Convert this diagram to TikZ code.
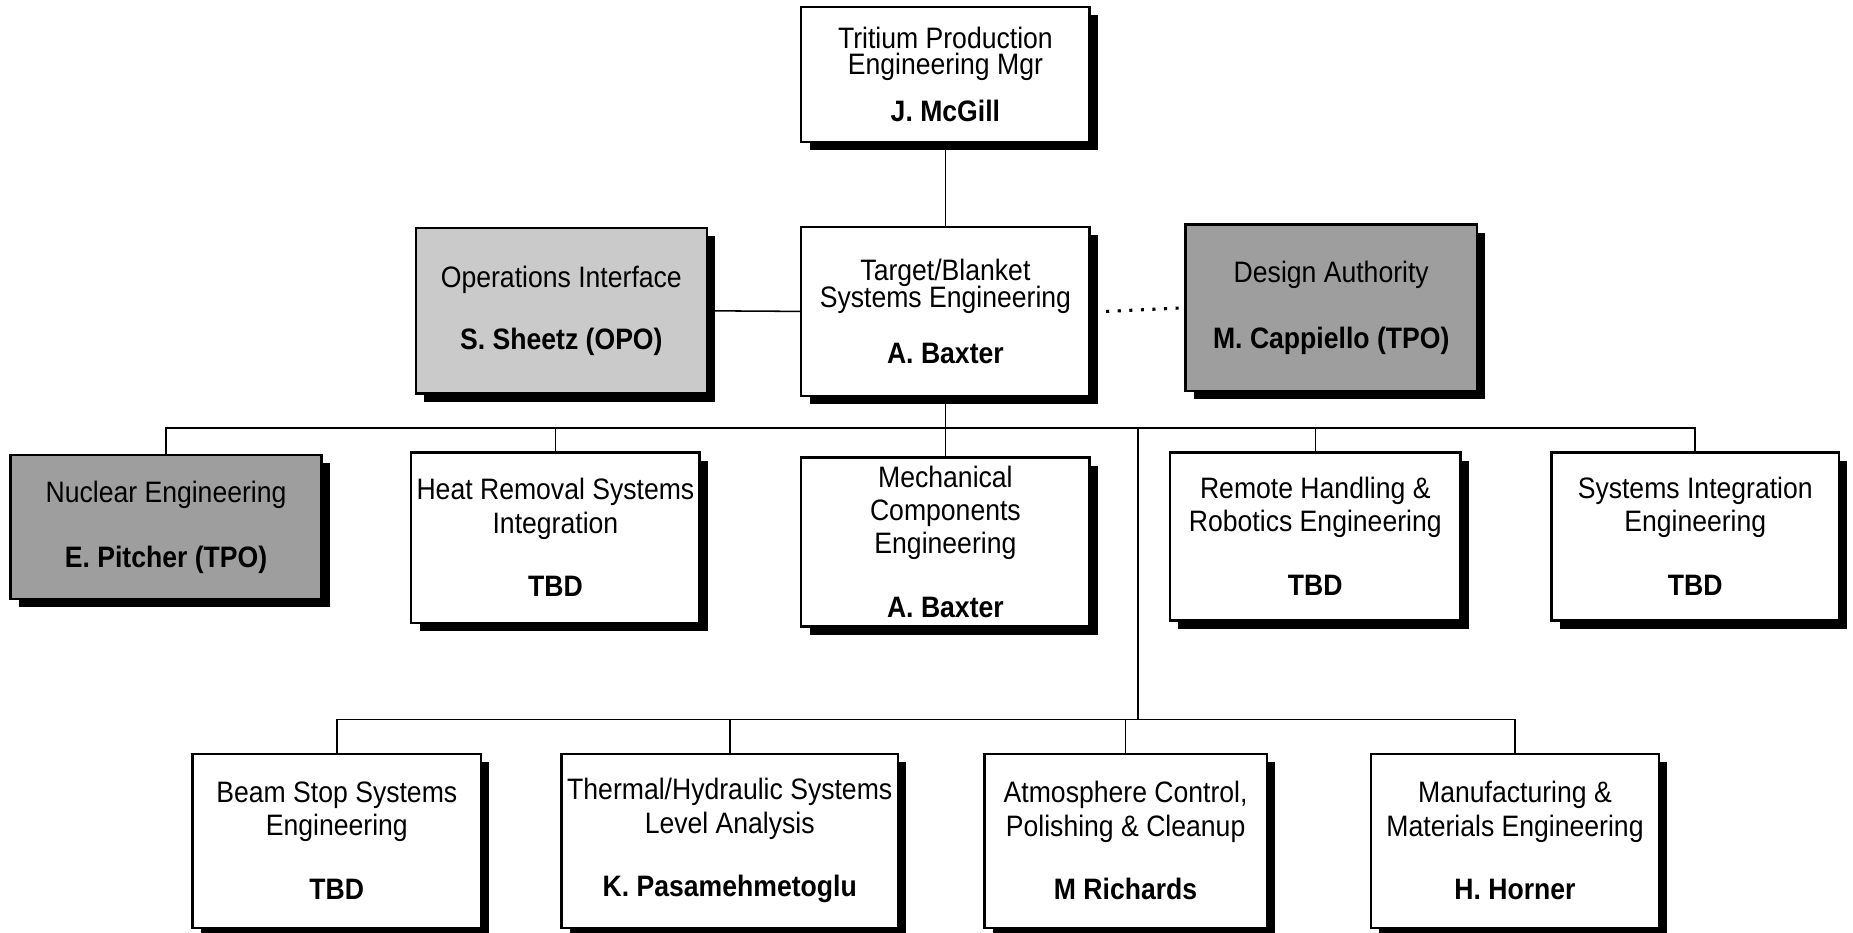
\documentclass[tikz,border=0pt]{standalone}
\usepackage{fontspec}
\setmainfont{Liberation Sans}[FakeStretch=0.9]
\usetikzlibrary{shadows}
\definecolor{lightfill}{RGB}{202,202,202}
\definecolor{darkfill}{RGB}{158,158,158}
\begin{document}
\begin{tikzpicture}[x=1pt,y=-1pt,
  box/.style={draw=black, line width=2pt, fill=white, inner sep=0pt,
    align=center, font=\fontsize{25}{28}\selectfont,
    drop shadow={shadow xshift=7pt, shadow yshift=-7pt, fill=black, opacity=1}},
  conn/.style={line width=1.3pt},
  dotconn/.style={line width=2.6pt, dash pattern=on 2.6pt off 7.2pt}]
\useasboundingbox (0,0) rectangle (1568,789);

% management chain
\node[box, minimum width=244pt, minimum height=114pt] (top) at (800,63)
  {Tritium Production\\[-6pt]Engineering Mgr\\[11pt]\textbf{J. McGill}};
\node[box, minimum width=244pt, minimum height=143pt] (target) at (800,263.5)
  {Target/Blanket\\[-5pt]Systems Engineering\\[20pt]\textbf{A. Baxter}};
\node[box, fill=lightfill, minimum width=246pt, minimum height=140pt] (ops) at (475,263)
  {Operations Interface\\[25pt]\textbf{S. Sheetz (OPO)}};
\node[box, fill=darkfill, minimum width=247pt, minimum height=141pt] (design) at (1126.5,260.5)
  {Design Authority\\[28pt]\textbf{M. Cappiello (TPO)}};

% second level
\node[box, fill=darkfill, minimum width=263pt, minimum height=122pt] (nuc) at (140.5,446)
  {Nuclear Engineering\\[27pt]\textbf{E. Pitcher (TPO)}};
\node[box, minimum width=244pt, minimum height=144pt] (heat) at (470,455)
  {Heat Removal Systems\\Integration\\[26pt]\textbf{TBD}};
\node[box, minimum width=244pt, minimum height=143pt] (mech) at (800,458.5)
  {Mechanical\\Components\\Engineering\\[26pt]\textbf{A. Baxter}};
\node[box, minimum width=246pt, minimum height=142pt] (remote) at (1113,454)
  {Remote Handling \&\\Robotics Engineering\\[26pt]\textbf{TBD}};
\node[box, minimum width=243pt, minimum height=142pt] (sysint) at (1434.5,454)
  {Systems Integration\\Engineering\\[26pt]\textbf{TBD}};

% third level
\node[box, minimum width=244pt, minimum height=147pt] (beam) at (285,711.5)
  {Beam Stop Systems\\Engineering\\[26pt]\textbf{TBD}};
\node[box, minimum width=285pt, minimum height=147pt] (thermal) at (617.5,711.5)
  {Thermal/Hydraulic Systems\\Level Analysis\\[26pt]\textbf{K. Pasamehmetoglu}};
\node[box, minimum width=239pt, minimum height=147pt] (atmos) at (952.5,711.5)
  {Atmosphere Control,\\Polishing \& Cleanup\\[26pt]\textbf{M Richards}};
\node[box, minimum width=244pt, minimum height=147pt] (manu) at (1282,711.5)
  {Manufacturing \&\\Materials Engineering\\[26pt]\textbf{H. Horner}};

% bus junctions
\coordinate (bus) at (800,362);
\coordinate (tap) at (963,362);
\coordinate (bus2) at (963,609);

% connectors
\draw[conn] (top.south) -- (target.north);
\draw[conn] (ops.east) -- (target.west);
\draw[dotconn] ([xshift=13pt]target.east) -- (design.west);
\draw[conn] (target.south) -- (mech.north);
\draw[conn] (nuc.north) |- (bus) -| (sysint.north);
\draw[conn] (heat.north) -- (heat.north |- bus);
\draw[conn] (remote.north) -- (remote.north |- bus);
\draw[conn] (tap) -- (bus2);
\draw[conn] (beam.north) |- (bus2) -| (manu.north);
\draw[conn] (thermal.north) -- (thermal.north |- bus2);
\draw[conn] (atmos.north) -- (atmos.north |- bus2);
\end{tikzpicture}
\end{document}
